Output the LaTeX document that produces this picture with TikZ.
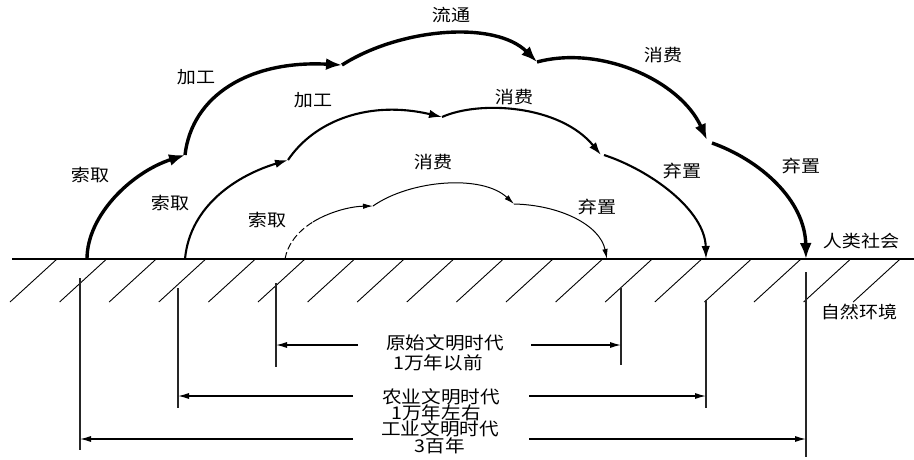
\documentclass[tikz,border=0pt]{standalone}
\usepackage{fontspec}
\newfontfamily\cjk[FakeStretch=1.12]{Noto Sans CJK SC}
\usetikzlibrary{arrows.meta}
\tikzset{
  lbl/.style={font=\cjk\fontsize{17}{17}\selectfont, inner sep=0pt},
  ctext/.style={font=\cjk\fontsize{17.5}{17.5}\selectfont, inner sep=0pt},
  outerarc/.style={line width=3.4pt, -{Latex[length=16pt,width=12pt]}},
  midarc/.style={line width=2.1pt, -{Latex[length=13pt,width=8.5pt]}},
  innerarc/.style={line width=1pt, -{Latex[length=10pt,width=5.5pt]}},
  ground/.style={line width=1.3pt},
  hatch/.style={line width=0.9pt},
  ext/.style={line width=1.5pt, black!85},
  dimarrow/.style={line width=1.2pt, -{Latex[length=11pt,width=6pt]}}
}
\begin{document}
\begin{tikzpicture}[x=1pt,y=-1pt]
\useasboundingbox (0,0) rectangle (914,459);
% ground and hatching
\coordinate (gL) at (12,259);
\coordinate (gR) at (914,259);
\draw[ground] (gL) -- (gR);
\foreach \k in {0,...,17}{
  \draw[hatch] ({10+49.6*\k},302) -- ({57+49.6*\k},259);
}
% outer arc
\coordinate (o0) at (87,259);
\coordinate (o1) at (185,155);
\coordinate (o2) at (342,65);
\coordinate (o3) at (537,62);
\coordinate (o4) at (707,140);
\coordinate (o4b) at (712,143);
\coordinate (o5) at (806,259);
\draw[outerarc] (o0) .. controls (87,215) and (132,172) .. (o1);
\draw[outerarc] (o1) .. controls (192,95) and (250,60) .. (o2);
\draw[outerarc] (o2) .. controls (400,28) and (495,20) .. (o3);
\draw[outerarc] (o3) .. controls (600,45) and (680,80) .. (o4);
\draw[outerarc] (o4b) .. controls (760,160) and (805,200) .. (o5);
% middle arc
\coordinate (m0) at (185,259);
\coordinate (m1) at (288,160);
\coordinate (m2) at (442,117);
\coordinate (m3) at (601,155);
\coordinate (m3b) at (604,155);
\coordinate (m4) at (706,259);
\draw[midarc] (m0) .. controls (190,205) and (238,175) .. (m1);
\draw[midarc] (m1) .. controls (315,120) and (370,100) .. (m2);
\draw[midarc] (m2) .. controls (480,100) and (560,105) .. (m3);
\draw[midarc] (m3b) .. controls (650,170) and (705,210) .. (m4);
% inner arc
\coordinate (i0) at (285,259);
\coordinate (i0m) at (312.9,222);
\coordinate (i1) at (373,206);
\coordinate (i2) at (514,204);
\coordinate (i3) at (607,259);
\draw[line width=1pt, dash pattern=on 7pt off 3pt] (i0) .. controls (287.5,244.5) and (297.5,231.5) .. (i0m);
\draw[innerarc] (i0m) .. controls (328.25,212.5) and (349,206.5) .. (i1);
\draw[innerarc] (i1) .. controls (410,180) and (482,174) .. (i2);
\draw[innerarc] (i2) .. controls (560,205) and (600,225) .. (i3);
% arc labels
\node[lbl] (lt) at (451,15) {流通};
\node[lbl] (oJ) at (196,77) {加工};
\node[lbl] (oS) at (90,175) {索取};
\node[lbl] (oX) at (663,55) {消费};
\node[lbl] (oQ) at (801,166) {弃置};
\node[lbl] (mJ) at (313,100) {加工};
\node[lbl] (mS) at (170,203) {索取};
\node[lbl] (mX) at (514,97) {消费};
\node[lbl] (mQ) at (682,171) {弃置};
\node[lbl] (iS) at (267,220) {索取};
\node[lbl] (iX) at (433,162) {消费};
\node[lbl] (iQ) at (597,207) {弃置};
\node[lbl] (rs) at (861,241) {人类社会};
\node[lbl] (zr) at (859,312) {自然环境};
% extension lines
\coordinate (v1Lt) at (80,278);  \coordinate (v1Lb) at (80,450);
\coordinate (v2Lt) at (178,288); \coordinate (v2Lb) at (178,408);
\coordinate (v3Lt) at (276,283); \coordinate (v3Lb) at (276,367);
\coordinate (v3Rt) at (621,288); \coordinate (v3Rb) at (621,365);
\coordinate (v2Rt) at (706,300); \coordinate (v2Rb) at (706,408);
\coordinate (v1Rt) at (806,272); \coordinate (v1Rb) at (806,457);
\draw[ext] (v1Lt) -- (v1Lb);
\draw[ext] (v2Lt) -- (v2Lb);
\draw[ext] (v3Lt) -- (v3Lb);
\draw[ext] (v3Rt) -- (v3Rb);
\draw[ext] (v2Rt) -- (v2Rb);
\draw[ext] (v1Rt) -- (v1Rb);
% centre texts
\node[ctext] (t1) at (445,343) {原始文明时代};
\node[ctext] (t1b) at (438,363) {1万年以前};
\node[ctext] (t2) at (441,397) {农业文明时代};
\node[ctext] (t2b) at (436,413) {1万年左右};
\node[ctext] (t3) at (440,429) {工业文明时代};
\node[ctext] (t3b) at (440,446) {3百年};
% dimension arrows
\coordinate (a1l) at (358,345); \coordinate (a1r) at (531,345);
\coordinate (a2l) at (353,396); \coordinate (a2r) at (529,396);
\coordinate (a3l) at (353,439); \coordinate (a3r) at (529,439);
\draw[dimarrow] (a1l) -- (v3Lt |- a1l);
\draw[dimarrow] (a1r) -- (v3Rt |- a1r);
\draw[dimarrow] (a2l) -- (v2Lt |- a2l);
\draw[dimarrow] (a2r) -- (v2Rt |- a2r);
\draw[dimarrow] (a3l) -- (v1Lt |- a3l);
\draw[dimarrow] (a3r) -- (v1Rt |- a3r);
\end{tikzpicture}
\end{document}
